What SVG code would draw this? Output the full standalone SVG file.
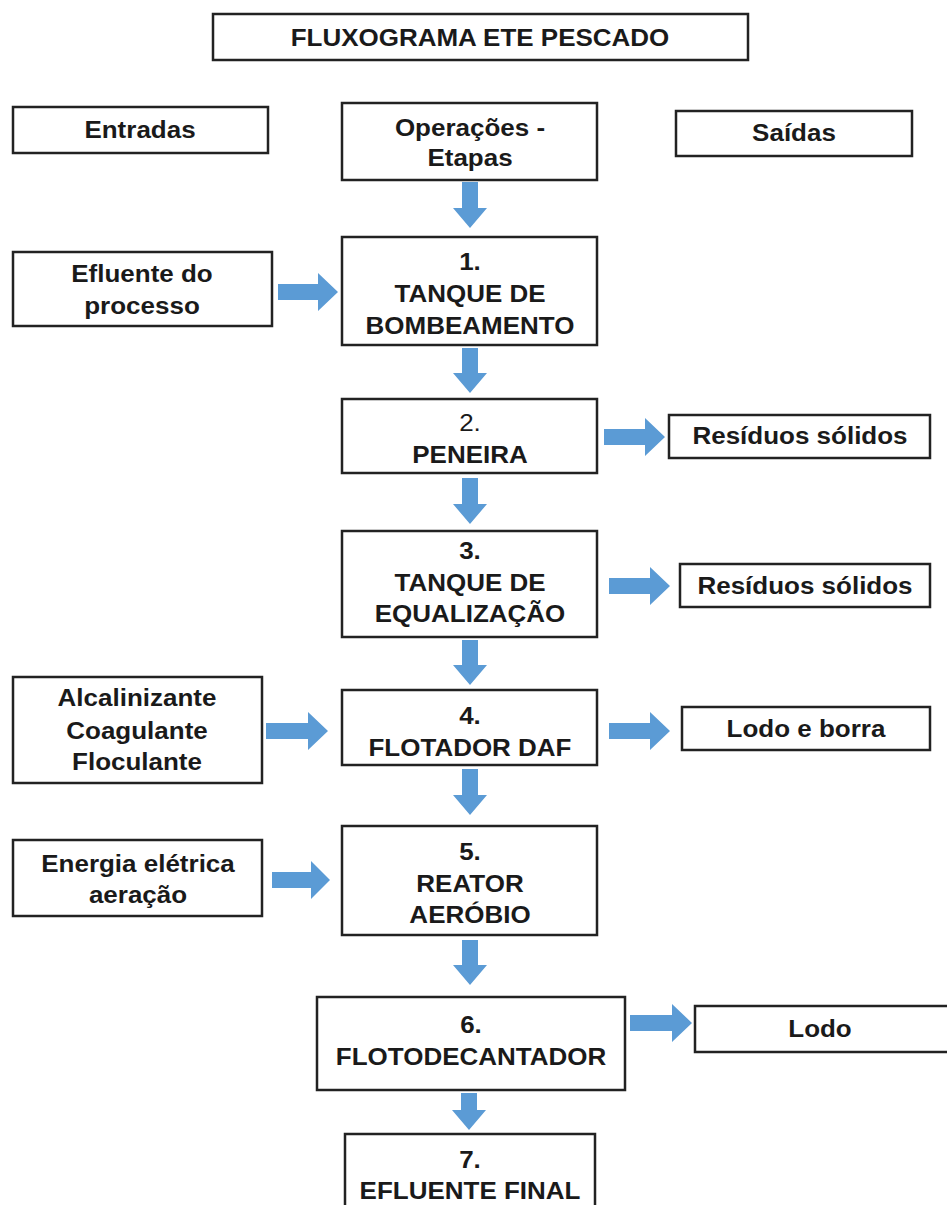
<svg xmlns="http://www.w3.org/2000/svg" width="947" height="1205" viewBox="0 0 947 1205">
<defs>
<style>
.box{fill:#fff;stroke:#222;stroke-width:2.5}
.t{font-family:"Liberation Sans",Arial,sans-serif;font-weight:bold;font-size:23px;fill:#1a1a1a;text-anchor:middle}
.n{font-weight:normal}
.arr{fill:#5B9BD5}
</style>
</defs>
<rect width="947" height="1205" fill="#fff"/>
<g id="connectors">
<polygon class="arr" points="462,182 478,182 478,208 487,208 470,228 453,208 462,208"/>
<polygon class="arr" points="278,284 318,284 318,273 338,292 318,311 318,300 278,300"/>
<polygon class="arr" points="462,348 478,348 478,373 487,373 470,393 453,373 462,373"/>
<polygon class="arr" points="604,429 645,429 645,418 665,437 645,456 645,445 604,445"/>
<polygon class="arr" points="462,478 478,478 478,504 487,504 470,524 453,504 462,504"/>
<polygon class="arr" points="609,578 650,578 650,567 670,586 650,605 650,594 609,594"/>
<polygon class="arr" points="462,640 478,640 478,665 487,665 470,685 453,665 462,665"/>
<polygon class="arr" points="266,723 308,723 308,712 328,731 308,750 308,739 266,739"/>
<polygon class="arr" points="609,723 650,723 650,712 670,731 650,750 650,739 609,739"/>
<polygon class="arr" points="462,769 478,769 478,795 487,795 470,815 453,795 462,795"/>
<polygon class="arr" points="272,872 311,872 311,861 330,880 311,899 311,888 272,888"/>
<polygon class="arr" points="462,940 478,940 478,965 487,965 470,985 453,965 462,965"/>
<polygon class="arr" points="630,1015 672,1015 672,1004 692,1023 672,1042 672,1031 630,1031"/>
<polygon class="arr" points="461,1093 477,1093 477,1110 486,1110 469,1130 452,1110 461,1110"/>
</g>
<g id="title"><rect class="box" x="213" y="14" width="535" height="46"/><text class="t" font-size="21" transform="translate(480,46) scale(1.13,1)">FLUXOGRAMA ETE PESCADO</text></g>
<g id="entradas"><rect class="box" x="13" y="107" width="255" height="46"/><text class="t" transform="translate(140,138) scale(1.13,1)">Entradas</text></g>
<g id="operacoes"><rect class="box" x="342" y="103" width="255" height="77"/><text class="t" transform="translate(470,136) scale(1.13,1)">Operações -</text><text class="t" transform="translate(470,166) scale(1.13,1)">Etapas</text></g>
<g id="saidas"><rect class="box" x="676" y="111" width="236" height="45"/><text class="t" transform="translate(794,141) scale(1.13,1)">Saídas</text></g>
<g id="n1"><rect class="box" x="342" y="237" width="255" height="108"/><text class="t" transform="translate(470,270) scale(1.13,1)">1.</text><text class="t" transform="translate(470,302) scale(1.13,1)">TANQUE DE</text><text class="t" transform="translate(470,334) scale(1.13,1)">BOMBEAMENTO</text></g>
<g id="efluente"><rect class="box" x="13" y="252" width="259" height="74"/><text class="t" transform="translate(142,282) scale(1.13,1)">Efluente do</text><text class="t" transform="translate(142,314) scale(1.13,1)">processo</text></g>
<g id="n2"><rect class="box" x="342" y="399" width="255" height="74"/><text class="t n" transform="translate(470,431) scale(1.13,1)">2.</text><text class="t" transform="translate(470,463) scale(1.13,1)">PENEIRA</text></g>
<g id="residuos1"><rect class="box" x="669" y="415" width="261" height="43"/><text class="t" transform="translate(800,444) scale(1.13,1)">Resíduos sólidos</text></g>
<g id="n3"><rect class="box" x="342" y="531" width="255" height="106"/><text class="t" transform="translate(470,559) scale(1.13,1)">3.</text><text class="t" transform="translate(470,591) scale(1.13,1)">TANQUE DE</text><text class="t" transform="translate(470,622) scale(1.13,1)">EQUALIZAÇÃO</text></g>
<g id="residuos2"><rect class="box" x="680" y="564" width="250" height="43"/><text class="t" transform="translate(805,594) scale(1.13,1)">Resíduos sólidos</text></g>
<g id="quimicos"><rect class="box" x="13" y="677" width="249" height="106"/><text class="t" transform="translate(137,706) scale(1.13,1)">Alcalinizante</text><text class="t" transform="translate(137,739) scale(1.13,1)">Coagulante</text><text class="t" transform="translate(137,770) scale(1.13,1)">Floculante</text></g>
<g id="n4"><rect class="box" x="342" y="690" width="255" height="75"/><text class="t" transform="translate(470,724) scale(1.13,1)">4.</text><text class="t" transform="translate(470,756) scale(1.13,1)">FLOTADOR DAF</text></g>
<g id="lodoborra"><rect class="box" x="682" y="707" width="248" height="43"/><text class="t" transform="translate(806,737) scale(1.13,1)">Lodo e borra</text></g>
<g id="energia"><rect class="box" x="13" y="840" width="249" height="76"/><text class="t" transform="translate(138,872) scale(1.13,1)">Energia elétrica</text><text class="t" transform="translate(138,903) scale(1.13,1)">aeração</text></g>
<g id="n5"><rect class="box" x="342" y="826" width="255" height="109"/><text class="t" transform="translate(470,860) scale(1.13,1)">5.</text><text class="t" transform="translate(470,892) scale(1.13,1)">REATOR</text><text class="t" transform="translate(470,923) scale(1.13,1)">AERÓBIO</text></g>
<g id="n6"><rect class="box" x="317" y="997" width="308" height="93"/><text class="t" transform="translate(471,1033) scale(1.13,1)">6.</text><text class="t" transform="translate(471,1065) scale(1.13,1)">FLOTODECANTADOR</text></g>
<g id="lodo"><rect class="box" x="695" y="1006" width="270" height="46"/><text class="t" transform="translate(820,1037) scale(1.13,1)">Lodo</text></g>
<g id="n7"><rect class="box" x="345" y="1134" width="250" height="90"/><text class="t" transform="translate(470,1168) scale(1.13,1)">7.</text><text class="t" transform="translate(470,1199) scale(1.13,1)">EFLUENTE FINAL</text></g>
</svg>
